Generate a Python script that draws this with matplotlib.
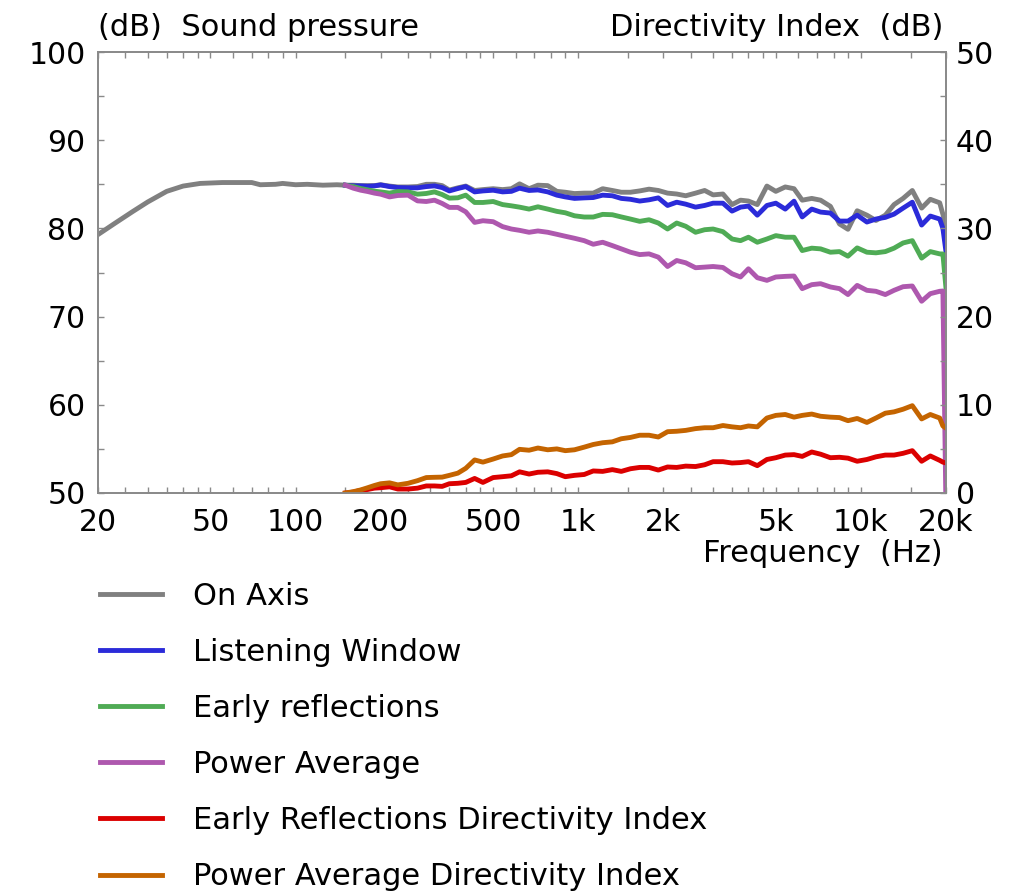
import matplotlib
matplotlib.use("Agg")
import matplotlib.pyplot as plt
import numpy as np
from matplotlib.ticker import FixedLocator, FixedFormatter, NullFormatter

# on-axis response below the crossover region (Hz, dB)
freq_low = [20, 23, 26.5, 30, 35, 40, 46, 55, 70, 75, 85, 90, 100, 110, 125, 140]
on_axis_low = [79.3, 80.6, 81.9, 83.0, 84.2, 84.8, 85.1, 85.2, 85.2, 84.95,
               85.0, 85.1, 84.95, 85.0, 84.9, 84.95]

# common frequency points from 150 Hz up (Hz)
freq = [150, 160, 170, 180, 190, 200,
        215, 230, 250, 270, 290,
        310, 330, 350, 375, 400,
        430, 460, 500, 540, 580,
        620, 670, 720, 780, 840,
        900, 970, 1050, 1130, 1220,
        1320, 1420, 1530, 1650, 1780,
        1920, 2070, 2230, 2400, 2600,
        2800, 3000, 3250, 3500, 3750,
        4000, 4300, 4650, 5000, 5400,
        5800, 6200, 6700, 7200, 7800,
        8400, 9000, 9700, 10500, 11300,
        12200, 13100, 14100, 15200, 16400,
        17600, 19000, 19500, 20000]

on_axis_high = [84.9, 84.9, 84.85, 84.85, 84.85, 84.95,
                84.8, 84.7, 84.7, 84.75, 85.0,
                85.0, 84.85, 84.35, 84.6, 84.8,
                84.3, 84.4, 84.5, 84.4, 84.5,
                85.05, 84.5, 84.9, 84.85, 84.2,
                84.1, 83.95, 84.0, 84.0, 84.5,
                84.3, 84.1, 84.1, 84.25, 84.45,
                84.3, 84.0, 83.9, 83.7, 84.0,
                84.3, 83.8, 83.9, 82.7, 83.2,
                83.1, 82.7, 84.8, 84.2, 84.7,
                84.5, 83.2, 83.4, 83.2, 82.5,
                80.5, 79.9, 82.0, 81.5, 80.9,
                81.5, 82.7, 83.4, 84.3, 82.3,
                83.3, 82.9, 81.6, 80.2]

listening_window = [84.9, 84.82, 84.82, 84.78, 84.82, 84.93,
                    84.74, 84.63, 84.6, 84.6, 84.74,
                    84.82, 84.63, 84.25, 84.52, 84.74,
                    84.14, 84.25, 84.33, 84.14, 84.2,
                    84.56, 84.3, 84.36, 84.14, 83.77,
                    83.57, 83.4, 83.46, 83.5, 83.77,
                    83.7, 83.4, 83.3, 83.1, 83.24,
                    83.46, 82.6, 82.97, 82.75, 82.41,
                    82.6, 82.86, 82.86, 81.96, 82.41,
                    82.53, 81.5, 82.6, 82.86, 82.19,
                    83.09, 81.3, 82.19, 81.85, 81.74,
                    80.83, 80.83, 81.5, 80.72, 81.06,
                    81.25, 81.62, 82.3, 82.97, 80.38,
                    81.4, 81.06, 80.0, 77.34]

early_reflections = [84.9, 84.74, 84.52, 84.37, 84.22, 84.14,
                     84.0, 84.18, 84.14, 83.88, 83.96,
                     84.14, 83.84, 83.43, 83.47, 83.77,
                     82.94, 82.94, 83.05, 82.7, 82.56,
                     82.41, 82.19, 82.45, 82.19, 81.93,
                     81.77, 81.43, 81.29, 81.29, 81.59,
                     81.55, 81.3, 81.06, 80.8, 80.98,
                     80.61, 79.93, 80.61, 80.24, 79.56,
                     79.85, 79.93, 79.63, 78.8, 78.61,
                     79.0, 78.43, 78.8, 79.18, 79.0,
                     79.0, 77.49, 77.76, 77.68, 77.3,
                     77.37, 76.85, 77.79, 77.3, 77.23,
                     77.37, 77.76, 78.35, 78.61, 76.63,
                     77.37, 77.11, 77.1, 73.2]

power_average = [84.9, 84.56, 84.33, 84.18, 84.0, 83.88,
                 83.57, 83.73, 83.77, 83.12, 83.05,
                 83.2, 82.83, 82.38, 82.38, 81.88,
                 80.68, 80.87, 80.76, 80.2, 79.93,
                 79.78, 79.56, 79.71, 79.56, 79.33,
                 79.11, 78.88, 78.61, 78.2, 78.43,
                 78.05, 77.68, 77.3, 77.03, 77.11,
                 76.74, 75.68, 76.36, 76.1, 75.54,
                 75.61, 75.68, 75.57, 74.86, 74.49,
                 75.42, 74.41, 74.11, 74.49, 74.56,
                 74.6, 73.17, 73.62, 73.73, 73.36,
                 73.17, 72.5, 73.54, 72.98, 72.87,
                 72.5, 72.98, 73.39, 73.47, 71.74,
                 72.6, 72.87, 72.9, 48.0]

er_di = [0.0, 0.1, 0.3, 0.4, 0.55, 0.6,
         0.7, 0.45, 0.45, 0.55, 0.8,
         0.8, 0.75, 1.05, 1.1, 1.2,
         1.65, 1.2, 1.75, 1.85, 1.95,
         2.4, 2.15, 2.35, 2.4, 2.2,
         1.85, 2.0, 2.1, 2.5, 2.45,
         2.65, 2.45, 2.75, 2.9, 2.9,
         2.6, 2.95, 2.9, 3.05, 3.0,
         3.2, 3.55, 3.55, 3.4, 3.45,
         3.55, 3.1, 3.8, 4.0, 4.3,
         4.35, 4.15, 4.65, 4.4, 4.0,
         4.05, 3.95, 3.6, 3.8, 4.1,
         4.3, 4.3, 4.5, 4.8, 3.6,
         4.2, 3.7, 3.5, 3.4]

pa_di = [0.0, 0.15, 0.35, 0.6, 0.85, 1.05,
         1.15, 0.92, 1.1, 1.4, 1.75,
         1.78, 1.8, 2.0, 2.25, 2.8,
         3.75, 3.5, 3.85, 4.2, 4.35,
         4.95, 4.85, 5.1, 4.9, 5.0,
         4.8, 4.9, 5.2, 5.5, 5.7,
         5.8, 6.15, 6.3, 6.55, 6.55,
         6.35, 6.95, 7.0, 7.1, 7.3,
         7.4, 7.4, 7.65, 7.5, 7.4,
         7.6, 7.5, 8.5, 8.8, 8.9,
         8.6, 8.8, 8.95, 8.7, 8.6,
         8.55, 8.2, 8.45, 8.0, 8.5,
         9.05, 9.2, 9.5, 9.9, 8.4,
         8.9, 8.5, 7.6, 7.35]

x_ticks = [20, 50, 100, 200, 500, 1000, 2000, 5000, 10000, 20000]
x_tick_labels = ["20", "50", "100", "200", "500", "1k", "2k", "5k", "10k", "20k"]
x_minor = [25, 30, 35, 40, 45, 60, 70, 80, 90,
           150, 250, 300, 350, 400, 450, 600, 700, 800, 900,
           1500, 2500, 3000, 3500, 4000, 4500, 6000, 7000, 8000, 9000,
           15000]

colors = {
    "On Axis": "#808080",
    "Listening Window": "#2b2bd9",
    "Early reflections": "#4fab55",
    "Power Average": "#ae58ae",
    "Early Reflections Directivity Index": "#db0000",
    "Power Average Directivity Index": "#c46400",
}

FS = 22
TICK_FS = 21.5
LW = 3.5
GRID_GRAY = "#8a8a8a"

fig = plt.figure(figsize=(10.17, 8.94), dpi=100)
ax = fig.add_axes([98 / 1017, 1 - 493 / 894, 848 / 1017, 441 / 894])
ax2 = ax.twinx()

on_axis = np.concatenate([on_axis_low, on_axis_high])
f_on = np.concatenate([freq_low, freq])

h1, = ax.plot(f_on, on_axis, color=colors["On Axis"], lw=LW)
h2, = ax.plot(freq, listening_window, color=colors["Listening Window"], lw=LW)
h3, = ax.plot(freq, early_reflections, color=colors["Early reflections"], lw=LW)
h4, = ax.plot(freq, power_average, color=colors["Power Average"], lw=LW)
h5, = ax2.plot(freq, er_di, color=colors["Early Reflections Directivity Index"], lw=LW)
h6, = ax2.plot(freq, pa_di, color=colors["Power Average Directivity Index"], lw=LW)

ax.set_xscale("log")
ax.set_xlim(20, 20000)
ax.set_ylim(50, 100)
ax2.set_ylim(0, 50)

ax.xaxis.set_major_locator(FixedLocator(x_ticks))
ax.xaxis.set_major_formatter(FixedFormatter(x_tick_labels))
ax.xaxis.set_minor_locator(FixedLocator(x_minor))
ax.xaxis.set_minor_formatter(NullFormatter())

ax.yaxis.set_major_locator(FixedLocator([50, 60, 70, 80, 90, 100]))
ax.yaxis.set_minor_locator(FixedLocator([55, 65, 75, 85, 95]))
ax2.yaxis.set_major_locator(FixedLocator([0, 10, 20, 30, 40, 50]))
ax2.yaxis.set_minor_locator(FixedLocator([5, 15, 25, 35, 45]))

for a in (ax, ax2):
    for s in a.spines.values():
        s.set_color(GRID_GRAY)
        s.set_linewidth(1.3)

ax.tick_params(axis="x", which="both", direction="in", length=4.3, width=1,
               color=GRID_GRAY, top=True, bottom=True, labelsize=TICK_FS, pad=11)
ax.tick_params(axis="y", which="both", direction="in", length=4.3, width=1,
               color=GRID_GRAY, left=True, right=False, labelsize=TICK_FS, pad=9)
ax2.tick_params(axis="y", which="both", direction="in", length=4.3, width=1,
                color=GRID_GRAY, labelsize=TICK_FS, pad=7)

fig.text(98 / 1017, 1 - 36 / 894, "(dB)  Sound pressure", fontsize=FS,
         ha="left", va="baseline")
fig.text(943 / 1017, 1 - 36 / 894, "Directivity Index  (dB)", fontsize=FS,
         ha="right", va="baseline")
fig.text(943 / 1017, 1 - 562 / 894, "Frequency  (Hz)", fontsize=FS,
         ha="right", va="baseline")

handles = [h1, h2, h3, h4, h5, h6]
labels = list(colors.keys())
fig.legend(handles, labels, loc="upper left",
           bbox_to_anchor=(100 / 1017, 1 - 582 / 894), frameon=False,
           fontsize=FS, borderpad=0, borderaxespad=0, handlelength=2.03,
           handletextpad=1.02, labelspacing=0.885)

fig.savefig("out.png", dpi=100)
